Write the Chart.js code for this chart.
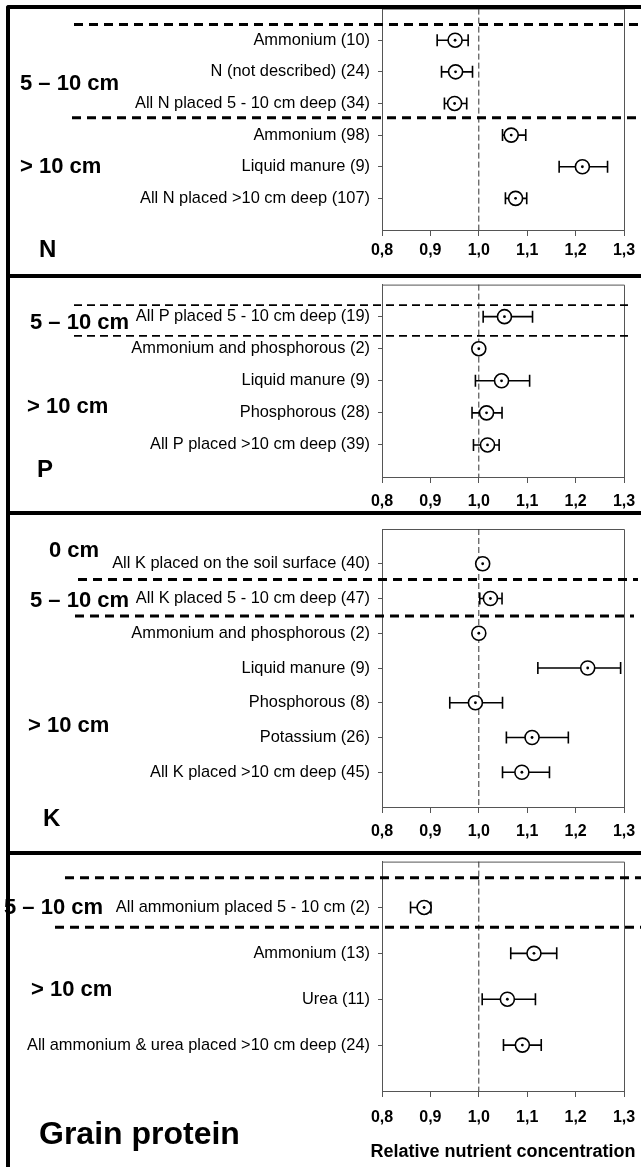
<!DOCTYPE html>
<html>
<head>
<meta charset="utf-8">
<script src="https://cdn.jsdelivr.net/npm/chart.js@4.4.0/dist/chart.umd.min.js"></script>
<style>
body{margin:0;background:#fff;width:641px;height:1167px;position:relative;overflow:hidden}
.panel{position:absolute;left:0;width:641px}
.bar{position:absolute;background:#000;z-index:5}
</style>
</head>
<body>
<div class="panel" style="top:0;height:276px"><canvas id="cN"></canvas></div>
<div class="panel" style="top:276px;height:237px"><canvas id="cP"></canvas></div>
<div class="panel" style="top:513px;height:340px"><canvas id="cK"></canvas></div>
<div class="panel" style="top:853px;height:314px"><canvas id="cG"></canvas></div>
<div class="bar" style="left:6px;top:5px;width:4px;height:1162px;border-top-left-radius:3px"></div>
<div class="bar" style="left:6px;top:5px;width:635px;height:4px;border-top-left-radius:3px"></div>
<div class="bar" style="left:6px;top:274px;width:635px;height:4px"></div>
<div class="bar" style="left:6px;top:511px;width:635px;height:4px"></div>
<div class="bar" style="left:6px;top:851px;width:635px;height:4px"></div>
<script>
const FONT = '"Liberation Sans", Arial, sans-serif'

// N
const nLabels = ["Ammonium (10)", "N (not described) (24)", "All N placed 5 - 10 cm deep (34)",
    "Ammonium (98)", "Liquid manure (9)", "All N placed >10 cm deep (107)"]
const nMean = [0.951, 0.952, 0.950, 1.067, 1.214, 1.076]
const nLow  = [0.914, 0.923, 0.929, 1.049, 1.166, 1.055]
const nHigh = [0.978, 0.987, 0.975, 1.097, 1.266, 1.099]

// P
const pLabels = ["All P placed 5 - 10 cm deep (19)", "Ammonium and phosphorous (2)",
    "Liquid manure (9)", "Phosphorous (28)", "All P placed >10 cm deep (39)"]
const pMean = [1.053, 1.000, 1.047, 1.016, 1.018]
const pLow  = [1.009, 0.998, 0.993, 0.986, 0.989]
const pHigh = [1.111, 1.002, 1.105, 1.048, 1.042]

// K
const kLabels = ["All K placed on the soil surface (40)", "All K placed 5 - 10 cm deep (47)",
    "Ammonium and phosphorous (2)", "Liquid manure (9)", "Phosphorous (8)",
    "Potassium (26)", "All K placed >10 cm deep (45)"]
const kMean = [1.008, 1.024, 1.000, 1.225, 0.993, 1.110, 1.089]
const kLow  = [0.998, 1.002, 0.999, 1.122, 0.940, 1.057, 1.049]
const kHigh = [1.017, 1.048, 1.001, 1.293, 1.049, 1.185, 1.146]

// Grain protein
const gLabels = ["All ammonium placed 5 - 10 cm (2)", "Ammonium (13)", "Urea (11)",
    "All ammonium & urea placed >10 cm deep (24)"]
const gMean = [0.887, 1.114, 1.059, 1.090]
const gLow  = [0.859, 1.066, 1.007, 1.051]
const gHigh = [0.901, 1.161, 1.117, 1.129]

const xTicks = [0.8, 0.9, 1.0, 1.1, 1.2, 1.3]

// forest plot extras: ref line, error bars, dots, group lines and labels
const forestPlugin = {
    id: "forest",
    beforeDatasetsDraw(chart){
        const {ctx, chartArea: a, scales: {x, y}} = chart
        const o = chart.options.plugins.forest
        ctx.save()
        // box right + top
        ctx.strokeStyle = "#555"
        ctx.lineWidth = 1
        ctx.beginPath()
        ctx.moveTo(a.left, a.top + 0.5); ctx.lineTo(a.right + 0.5, a.top + 0.5); ctx.lineTo(a.right + 0.5, a.bottom)
        ctx.stroke()
        // 1.0 line
        const x1 = x.getPixelForValue(1.0)
        ctx.strokeStyle = "#333"
        ctx.setLineDash([6, 3])
        ctx.beginPath()
        ctx.moveTo(x1, a.top); ctx.lineTo(x1, a.bottom)
        ctx.stroke()
        ctx.setLineDash([])
        // error bars
        ctx.strokeStyle = "#000"
        ctx.lineWidth = 1.6
        o.low.forEach((lo, i) => {
            const yy = y.getPixelForValue(i)
            const xl = x.getPixelForValue(lo), xh = x.getPixelForValue(o.high[i])
            ctx.beginPath()
            ctx.moveTo(xl, yy); ctx.lineTo(xh, yy)
            ctx.moveTo(xl, yy - 6); ctx.lineTo(xl, yy + 6)
            ctx.moveTo(xh, yy - 6); ctx.lineTo(xh, yy + 6)
            ctx.stroke()
        })
        ctx.restore()
    },
    afterDatasetsDraw(chart){
        const {ctx, chartArea: a, scales: {x, y}} = chart
        const o = chart.options.plugins.forest
        ctx.save()
        ctx.fillStyle = "#000"
        o.mean.forEach((m, i) => {
            ctx.beginPath()
            ctx.arc(x.getPixelForValue(m), y.getPixelForValue(i), 1.4, 0, Math.PI * 2)
            ctx.fill()
        })
        // dashed group dividers
        ctx.strokeStyle = "#000"
        o.dividers.forEach(d => {
            const yy = y.getPixelForValue(d.row)
            ctx.lineWidth = o.divWidth
            ctx.setLineDash(o.divDash)
            ctx.beginPath()
            ctx.moveTo(d.x0, yy); ctx.lineTo(d.x1, yy)
            ctx.stroke()
        })
        ctx.setLineDash([])
        // group labels
        ctx.textBaseline = "middle"
        ctx.font = "bold 22px " + FONT
        o.groups.forEach(g => {
            ctx.fillText(g.text, g.x, y.getPixelForValue(g.row))
        })
        // panel letter
        ctx.font = "bold " + o.letter.size + "px " + FONT
        ctx.fillText(o.letter.text, o.letter.x, o.letter.y)
        // x axis title (drawn free so it can run past the plot box)
        if (o.xTitle) {
            ctx.font = "bold 18px " + FONT
            ctx.textAlign = "center"
            ctx.fillText(o.xTitle.text, (a.left + a.right) / 2, o.xTitle.y)
        }
        ctx.restore()
    }
}

function forestChart(id, labels, mean, low, high, lay){
    const n = labels.length
    return new Chart(document.getElementById(id), {
        type: "scatter",
        data: {
            datasets: [{
                data: mean.map((m, i) => ({x: m, y: i})),
                pointRadius: 7,
                pointBackgroundColor: "#fff",
                pointBorderColor: "#000",
                pointBorderWidth: 1.6,
                showLine: false
            }]
        },
        options: {
            responsive: true,
            maintainAspectRatio: false,
            animation: false,
            layout: { padding: { left: 0, right: 17, top: lay.padTop, bottom: 0 } },
            plugins: {
                legend: { display: false },
                tooltip: { enabled: false },
                forest: {
                    mean, low, high,
                    dividers: lay.dividers, divWidth: lay.divWidth, divDash: lay.divDash,
                    groups: lay.groups, letter: lay.letter, xTitle: lay.xTitle
                }
            },
            scales: {
                x: {
                    type: "linear", min: 0.8, max: 1.3,
                    afterBuildTicks: s => { s.ticks = xTicks.map(v => ({value: v})) },
                    afterFit: s => {
                        s.height = lay.xHeight
                        s.paddingLeft = 0; s.paddingRight = 0
                    },
                    ticks: {
                        callback: v => v.toFixed(1).replace(".", ","),
                        color: "#000", padding: lay.tickPad, maxRotation: 0, autoSkip: false,
                        font: { family: FONT, size: 16, weight: "bold" }
                    },
                    grid: { drawOnChartArea: false, tickLength: 6, color: "#555" },
                    border: { color: "#555" }
                },
                y: {
                    type: "linear", reverse: true, min: -1, max: n,
                    afterBuildTicks: s => { s.ticks = labels.map((_, i) => ({value: i})) },
                    afterFit: s => {
                        s.width = 382
                        s.paddingTop = 0; s.paddingBottom = 0
                    },
                    ticks: {
                        callback: v => labels[v],
                        color: "#000", padding: 8, autoSkip: false,
                        font: { family: FONT, size: 16.4 }
                    },
                    grid: { drawOnChartArea: false, tickLength: 4, color: "#555" },
                    border: { color: "#555" }
                }
            }
        },
        plugins: [forestPlugin]
    })
}

forestChart("cN", nLabels, nMean, nLow, nHigh, {
    padTop: 6, xHeight: 46, tickPad: 5,
    divWidth: 3, divDash: [9, 6],
    dividers: [{row: -0.5, x0: 74, x1: 641}, {row: 2.45, x0: 72, x1: 641}],
    groups: [{text: "5 – 10 cm", row: 1.37, x: 20}, {text: "> 10 cm", row: 4, x: 20}],
    letter: {text: "N", x: 39, y: 250, size: 24}
})

forestChart("cP", pLabels, pMean, pLow, pHigh, {
    padTop: 2, xHeight: 36, tickPad: 9,
    divWidth: 1.6, divDash: [8, 5],
    dividers: [{row: -0.36, x0: 74, x1: 631}, {row: 0.6, x0: 74, x1: 631}],
    groups: [{text: "5 – 10 cm", row: 0.18, x: 30}, {text: "> 10 cm", row: 2.8, x: 27}],
    letter: {text: "P", x: 37, y: 470 - 276, size: 24}
})

forestChart("cK", kLabels, kMean, kLow, kHigh, {
    padTop: 16, xHeight: 46, tickPad: 9,
    divWidth: 3, divDash: [9, 6],
    dividers: [{row: 0.45, x0: 78, x1: 638}, {row: 1.5, x0: 75, x1: 634}],
    groups: [{text: "0 cm", row: -0.37, x: 49}, {text: "5 – 10 cm", row: 1.06, x: 30},
             {text: "> 10 cm", row: 4.68, x: 28}],
    letter: {text: "K", x: 43, y: 819 - 513, size: 24}
})

forestChart("cG", gLabels, gMean, gLow, gHigh, {
    padTop: 3, xHeight: 76, tickPad: 11,
    divWidth: 3, divDash: [9, 6],
    dividers: [{row: -0.65, x0: 65, x1: 641}, {row: 0.43, x0: 55, x1: 641}],
    groups: [{text: "5 – 10 cm", row: 0, x: 4}, {text: "> 10 cm", row: 1.8, x: 31}],
    letter: {text: "Grain protein", x: 39, y: 1135 - 853, size: 32},
    xTitle: {text: "Relative nutrient concentration", y: 1152 - 853}
})
</script>
</body>
</html>
